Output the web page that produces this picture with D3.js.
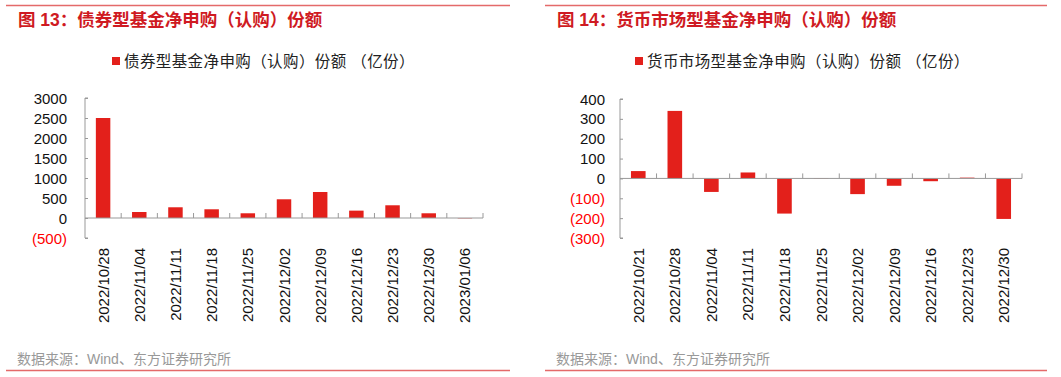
<!DOCTYPE html>
<html>
<head>
<meta charset="utf-8">
<script src="https://cdn.jsdelivr.net/npm/d3@7"></script>
<style>
  body { margin: 0; background: #fff; }
  svg { display: block; }
  text { font-family: "Liberation Sans", Arial, "Noto Sans CJK SC", sans-serif; }
  .cjk { font-family: "Liberation Sans", "Noto Sans CJK SC", sans-serif; }
</style>
</head>
<body>
<svg id="chart" width="1061" height="377"></svg>
<script>
// left panel: bond funds
var bondDates = ["2022/10/28","2022/11/04","2022/11/11","2022/11/18","2022/11/25","2022/12/02",
                 "2022/12/09","2022/12/16","2022/12/23","2022/12/30","2023/01/06"];
var bondValues = [2500, 150, 268, 218, 118, 468, 650, 184, 318, 118, -20];
var bondTicks = [-500, 0, 500, 1000, 1500, 2000, 2500, 3000];

// right panel: money market funds
var mmDates = ["2022/10/21","2022/10/28","2022/11/04","2022/11/11","2022/11/18","2022/11/25",
               "2022/12/02","2022/12/09","2022/12/16","2022/12/23","2022/12/30"];
var mmValues = [37, 340, -68, 30, -177, -2, -79, -37, -14, 4, -204];
var mmTicks = [-300, -200, -100, 0, 100, 200, 300, 400];

var barColor = "#E3201B";
var svg = d3.select("#chart");

function fmt(v) { return v < 0 ? "(" + Math.abs(v) + ")" : String(v); }

function panel(opt) {
    var g = svg.append("g");

    // frame lines
    g.append("line").attr("x1", opt.frameX0).attr("x2", opt.frameX1)
        .attr("y1", 5.5).attr("y2", 5.5)
        .style("stroke", "#E46A6A").style("stroke-width", 1.5);
    g.append("line").attr("x1", opt.frameX0).attr("x2", opt.frameX1)
        .attr("y1", 370.5).attr("y2", 370.5)
        .style("stroke", "#E46A6A").style("stroke-width", 1.5);

    // title
    g.append("text").attr("class", "cjk")
        .attr("x", opt.titleX).attr("y", 26)
        .style("font-size", "17.5px").style("font-weight", "bold")
        .style("fill", "#CF1A22")
        .text(opt.title);

    // legend
    g.append("rect").attr("x", opt.legendX).attr("y", 57).attr("width", 8).attr("height", 8)
        .style("fill", barColor);
    g.append("text").attr("class", "cjk")
        .attr("x", opt.legendX + 12).attr("y", 67)
        .style("font-size", "15.5px").style("letter-spacing", "0.4px").style("fill", "#222")
        .text(opt.legend);

    var x = d3.scaleBand()
        .domain(opt.dates)
        .range([opt.left, opt.right])
        .paddingInner(0.6)
        .paddingOuter(0.3);

    var y = d3.scaleLinear()
        .domain([opt.ticks[0], opt.ticks[opt.ticks.length - 1]])
        .range([opt.bottom, opt.top]);

    // bars (tiny bond bar shows up pale in the original)
    g.selectAll("rect.bar")
        .data(opt.values)
        .enter()
        .append("rect")
        .attr("class", "bar")
        .attr("x", function(d, i) { return x(opt.dates[i]); })
        .attr("width", x.bandwidth())
        .attr("y", function(d) { return y(Math.max(0, d)); })
        .attr("height", function(d) { return Math.abs(y(d) - y(0)); })
        .style("fill", function(d) { return opt.faint && Math.abs(d) <= 20 ? "#F0A0A0" : barColor; });

    // y axis
    var yAxis = d3.axisRight(y).tickValues(opt.ticks).tickSize(3).tickFormat("");
    var ya = g.append("g").attr("transform", "translate(" + opt.left + ",0)").call(yAxis);
    ya.select(".domain").attr("d", "M" + 3 + "," + y(opt.ticks[opt.ticks.length - 1]) + "H0V" + y(opt.ticks[0]) + "H3");
    ya.selectAll("line, path").style("stroke", "#999");

    g.selectAll("text.ylab")
        .data(opt.ticks)
        .enter()
        .append("text")
        .attr("class", "ylab")
        .attr("x", opt.labelX)
        .attr("y", function(d) { return y(d) + 5.5; })
        .attr("text-anchor", "end")
        .style("font-size", "15px")
        .style("fill", function(d) { return d < 0 ? "#FF0000" : "#111"; })
        .text(fmt);

    // x axis at zero, ticks between categories
    var bounds = d3.range(1, opt.dates.length + 1).map(function(i) { return opt.left + i * (opt.right - opt.left) / opt.dates.length; });
    g.append("line").attr("x1", opt.left).attr("x2", opt.right)
        .attr("y1", y(0)).attr("y2", y(0))
        .style("stroke", "#999").style("stroke-width", 1);
    g.selectAll("line.xtick")
        .data(bounds)
        .enter()
        .append("line")
        .attr("class", "xtick")
        .attr("x1", function(d) { return d; }).attr("x2", function(d) { return d; })
        .attr("y1", y(0) - 5).attr("y2", y(0))
        .style("stroke", "#999");

    // x labels
    g.selectAll("text.xlab")
        .data(opt.dates)
        .enter()
        .append("text")
        .attr("class", "xlab")
        .attr("transform", function(d) { return "translate(" + (x(d) + x.bandwidth() / 2 + 5.5) + ",248) rotate(-90)"; })
        .attr("text-anchor", "end")
        .style("font-size", "15px")
        .style("fill", "#111")
        .text(function(d) { return d; });

    // source
    g.append("text").attr("class", "cjk")
        .attr("x", opt.titleX - 1).attr("y", 364)
        .style("font-size", "14px").style("fill", "#999")
        .text("数据来源：Wind、东方证券研究所");
}

panel({
    frameX0: 6, frameX1: 510, titleX: 18,
    title: "图 13：债券型基金净申购（认购）份额",
    legendX: 112, legend: "债券型基金净申购（认购）份额 （亿份）",
    dates: bondDates, values: bondValues, ticks: bondTicks, faint: true,
    left: 85, right: 483, top: 98, bottom: 238, labelX: 67
});

panel({
    frameX0: 545, frameX1: 1047, titleX: 557,
    title: "图 14：货币市场型基金净申购（认购）份额",
    legendX: 635, legend: "货币市场型基金净申购（认购）份额 （亿份）",
    dates: mmDates, values: mmValues, ticks: mmTicks, faint: false,
    left: 620, right: 1022, top: 99, bottom: 238, labelX: 605
});
</script>
</body>
</html>
